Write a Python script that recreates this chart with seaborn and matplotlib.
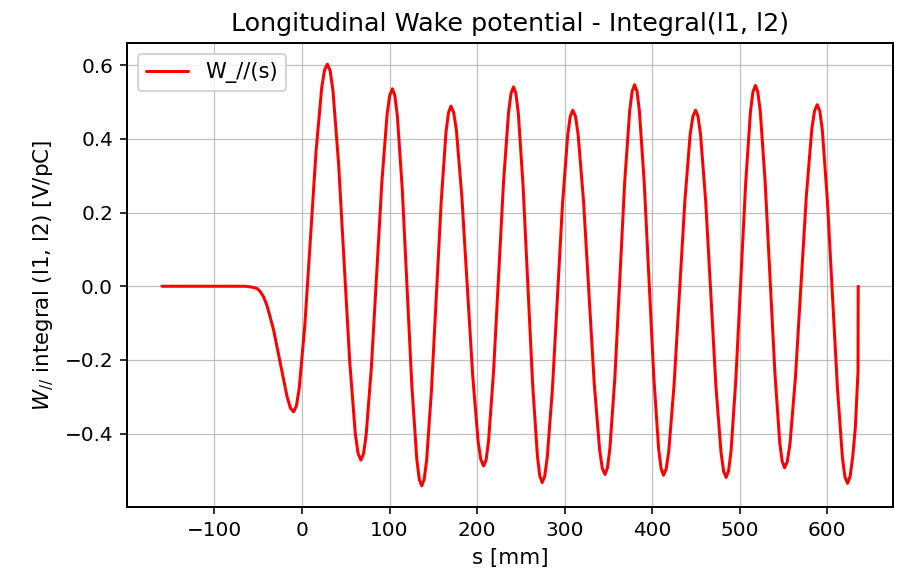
import matplotlib
matplotlib.use("Agg")
import matplotlib.pyplot as plt
import seaborn as sns
import pandas as pd

# Wake potential samples: s [mm] and W_// [V/pC]
s_mm = [
    -160.0, -120.0, -80.0, -65.0, -58.0, -51.3, -47.5, -43.8, -40.2, -36.4,
    -32.4, -28.6, -24.7, -20.9, -17.1, -13.3,
    -9.6, -6.4, -3.2, 3.3, 9.7, 16.1, 22.6, 25.8,
    29.0, 32.2, 35.4, 41.8, 48.2, 54.5, 60.9, 64.1,
    67.3, 70.3, 73.3, 79.3, 85.3, 91.3, 97.3, 100.3,
    103.3, 106.1, 108.9, 114.5, 120.1, 125.6, 131.2, 134.0,
    136.8, 139.6, 142.4, 147.9, 153.5, 159.1, 164.6, 167.4,
    170.2, 173.3, 176.4, 182.6, 188.9, 195.1, 201.3, 204.4,
    207.5, 210.4, 213.2, 218.9, 224.6, 230.3, 236.0, 238.9,
    241.7, 244.4, 247.2, 252.6, 258.1, 263.5, 269.0, 271.7,
    274.4, 277.3, 280.2, 286.1, 291.9, 297.7, 303.6, 306.5,
    309.4, 312.5, 315.5, 321.7, 327.8, 333.9, 340.1, 343.1,
    346.2, 349.0, 351.8, 357.5, 363.1, 368.7, 374.4, 377.2,
    380.0, 382.8, 385.5, 391.0, 396.5, 402.0, 407.5, 410.3,
    413.0, 416.1, 419.1, 425.2, 431.3, 437.4, 443.5, 446.6,
    449.6, 452.5, 455.4, 461.3, 467.1, 472.9, 478.8, 481.7,
    484.6, 487.4, 490.2, 495.7, 501.3, 506.9, 512.4, 515.2,
    518.0, 520.8, 523.6, 529.1, 534.7, 540.3, 545.8, 548.6,
    551.4, 554.5, 557.6, 563.8, 570.1, 576.3, 582.5, 585.6,
    588.7, 591.6, 594.5, 600.2, 606.0, 611.8, 617.5, 620.4,
    623.3, 626.2, 629.1, 632.2, 635.3, 635.5,
]
w_long = [
    0.0, 0.0, 0.0, 0.0, -0.002, -0.006, -0.015, -0.029, -0.051, -0.083,
    -0.119, -0.164, -0.209, -0.254, -0.299, -0.330,
    -0.341, -0.325, -0.278, -0.105, 0.131, 0.367, 0.540, 0.587,
    0.603, 0.585, 0.531, 0.334, 0.066, -0.203, -0.400, -0.454,
    -0.472, -0.455, -0.404, -0.220, 0.032, 0.284, 0.468, 0.519,
    0.536, 0.518, 0.464, 0.267, -0.003, -0.273, -0.470, -0.524,
    -0.542, -0.524, -0.473, -0.284, -0.027, 0.231, 0.420, 0.471,
    0.489, 0.472, 0.424, 0.245, 0.001, -0.244, -0.423, -0.471,
    -0.488, -0.471, -0.419, -0.231, 0.027, 0.284, 0.472, 0.524,
    0.541, 0.523, 0.469, 0.273, 0.004, -0.265, -0.461, -0.515,
    -0.533, -0.516, -0.465, -0.280, -0.028, 0.225, 0.410, 0.461,
    0.478, 0.461, 0.412, 0.231, -0.017, -0.264, -0.445, -0.494,
    -0.511, -0.493, -0.440, -0.247, 0.018, 0.283, 0.476, 0.529,
    0.547, 0.529, 0.476, 0.282, 0.017, -0.248, -0.442, -0.495,
    -0.513, -0.496, -0.447, -0.265, -0.018, 0.230, 0.412, 0.461,
    0.478, 0.461, 0.411, 0.229, -0.021, -0.270, -0.452, -0.502,
    -0.519, -0.501, -0.448, -0.253, 0.013, 0.279, 0.474, 0.527,
    0.545, 0.527, 0.475, 0.286, 0.026, -0.234, -0.423, -0.475,
    -0.493, -0.476, -0.427, -0.247, 0.000, 0.247, 0.427, 0.476,
    0.493, 0.476, 0.424, 0.236, -0.021, -0.278, -0.466, -0.518,
    -0.535, -0.517, -0.466, -0.385, -0.230, 0.0,
]

x_ticks = [-100, 0, 100, 200, 300, 400, 500, 600]
y_ticks = [-0.4, -0.2, 0.0, 0.2, 0.4, 0.6]

sns.set_style("ticks")
plt.rcParams["font.family"] = ["DejaVu Sans"]
plt.rcParams.update({
    "text.color": "black",
    "axes.labelcolor": "black",
    "xtick.color": "black",
    "ytick.color": "black",
})

df = pd.DataFrame({"s": s_mm, "W": w_long})

fig, ax = plt.subplots(figsize=(908 / 144, 576 / 144), dpi=144)
fig.subplots_adjust(left=0.14, right=0.9835, top=0.9253, bottom=0.1198)

sns.lineplot(data=df, x="s", y="W", color="red", linewidth=1.5,
             estimator=None, sort=False, label="W_//(s)", ax=ax)

ax.set_xticks(x_ticks)
ax.set_yticks(y_ticks)
ax.grid(True, color="#b0b0b0", linewidth=0.6, alpha=0.8)
for sp in ax.spines.values():
    sp.set_visible(True)
    sp.set_color("black")
    sp.set_linewidth(1.0)
ax.tick_params(direction="out", length=3.5, width=0.8, colors="black", labelsize=10)

ax.set_title("Longitudinal Wake potential - Integral(l1, l2)", fontsize=12.7)
ax.set_xlabel("s [mm]", fontsize=10.7)
ax.set_ylabel(r"$W_{//}$ integral (l1, l2) [V/pC]", fontsize=10.7)
ax.legend(loc="upper left", fontsize=10.5, frameon=True)

fig.savefig("out.png", dpi=144)
